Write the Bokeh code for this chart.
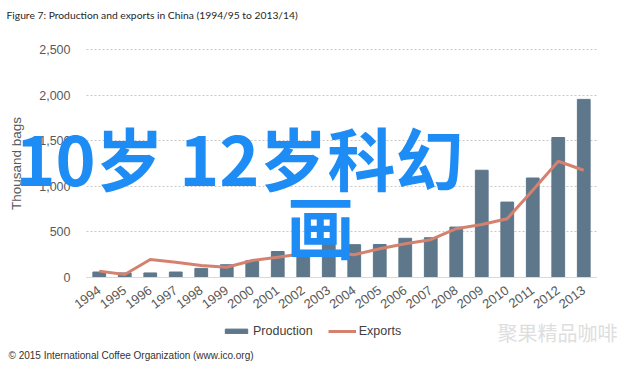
from bokeh.plotting import figure
from bokeh.models import (ColumnDataSource, Range1d, NumeralTickFormatter, Grid,
                          Legend, LegendItem, Label, FixedTicker)
from bokeh.embed import file_html
from bokeh.resources import INLINE

years = list(range(1994, 2014))
production = [60, 50, 50, 60, 100, 140, 185, 285, 290, 385, 360, 362, 430, 436, 553,
              1176, 827, 1091, 1535, 1953]
exports = [70, 33, 198, 168, 132, 113, 187, 223, 264, 278, 250, 315, 370, 414, 535,
           582, 645, 956, 1275, 1176]
y_ticks = [0, 500, 1000, 1500, 2000, 2500]

title_text = "Figure 7: Production and exports in China (1994/95 to 2013/14)"
footer_text = "\u00a9 2015 International Coffee Organization (www.ico.org)"
overlay1 = "10岁 12岁科幻"
overlay2 = "画"
watermark = "聚果精品咖啡"

# ---- layout geometry (pixels) ----
W, H = 640, 366
PLOT_L, PLOT_R, PLOT_T, PLOT_B = 86, 596, 49, 277
x_lo, x_hi = years[0] - 0.5, years[-1] + 0.5
y_lo, y_hi = y_ticks[0], y_ticks[-1]
px_x = (PLOT_R - PLOT_L) / (x_hi - x_lo)
px_y = (PLOT_B - PLOT_T) / (y_hi - y_lo)

def dx(px):
    return x_lo + (px - PLOT_L) / px_x

def dy(py):
    return y_lo + (PLOT_B - py) / px_y

src = ColumnDataSource(dict(year=years, production=production, exports=exports))

p = figure(width=W, height=H, output_backend="svg", toolbar_location=None,
           x_range=Range1d(dx(0), dx(W)), y_range=Range1d(dy(H), dy(0)),
           min_border_left=0, min_border_right=0, min_border_top=0, min_border_bottom=0)
p.outline_line_color = None
p.background_fill_color = "white"

bars = p.vbar(x="year", top="production", width=0.5, source=src, color="#5E778B")
line = p.line(x="year", y="exports", source=src, line_color="#D4826F", line_width=3)

tick_color = "#595959"
yax = p.yaxis[0]
yax.fixed_location = x_lo
yax.bounds = (y_lo, y_hi)
yax.ticker = FixedTicker(ticks=y_ticks)
yax.formatter = NumeralTickFormatter(format="0,0")
yax.axis_line_color = None
yax.major_tick_line_color = None
yax.minor_tick_line_color = None
yax.major_label_text_font = "Liberation Sans"
yax.major_label_text_font_size = "12.5px"
yax.major_label_text_color = tick_color
yax.major_label_standoff = 10
yax.axis_label = "Thousand bags"
yax.axis_label_text_font = "Liberation Sans"
yax.axis_label_text_font_style = "normal"
yax.axis_label_text_font_size = "13.5px"
yax.axis_label_text_color = tick_color
yax.axis_label_standoff = 12

xax = p.xaxis[0]
xax.fixed_location = y_lo
xax.bounds = (x_lo, x_hi)
xax.ticker = FixedTicker(ticks=years)
xax.major_label_overrides = {y: str(y) for y in years}
xax.axis_line_color = "#D9D9D9"
xax.major_tick_line_color = None
xax.minor_tick_line_color = None
xax.major_label_orientation = 0.63
xax.major_label_text_font = "Liberation Sans"
xax.major_label_text_font_size = "13px"
xax.major_label_text_color = tick_color
xax.major_label_standoff = 5

p.xgrid.grid_line_color = None
if "cross_bounds" in Grid.properties():
    p.ygrid.cross_bounds = (x_lo, x_hi)
    p.ygrid.grid_line_color = "#C8C8C8"
    p.ygrid.grid_line_dash = "2 2"
else:
    p.ygrid.grid_line_color = None
    p.segment(x0=[x_lo] * len(y_ticks), x1=[x_hi] * len(y_ticks), y0=y_ticks, y1=y_ticks,
              line_color="#C8C8C8", line_dash="2 2", level="underlay")

legend = Legend(items=[LegendItem(label="Production", renderers=[bars]),
                       LegendItem(label="Exports", renderers=[line])],
                location=(222, H - 341), orientation="horizontal",
                glyph_width=28, glyph_height=6, label_standoff=3, spacing=15,
                padding=0, margin=0, border_line_color=None, background_fill_alpha=0,
                label_text_font="Liberation Sans", label_text_font_size="12.5px",
                label_text_color="#404040", label_height=20)
p.add_layout(legend, "center")

def lab(text, px, py, size, color, font, align="left", style="normal"):
    p.add_layout(Label(x=dx(px), y=dy(py), text=text, text_font=font, text_font_size=size,
                       text_color=color, text_align=align, text_baseline="middle",
                       text_font_style=style))

lab(title_text, 6, 14, "10.3px", "#262626", "Lato")
lab(footer_text, 8, 355, "10px", "#333333", "Liberation Sans")
lab(watermark, 497, 332, "20px", "#DEDEDE", "Noto Sans CJK SC")
lab(overlay1, 15, 156, "68px", "#1E8CF5", "Noto Sans CJK SC", style="bold")
lab(overlay2, 320, 224, "68px", "#1E8CF5", "Noto Sans CJK SC", align="center", style="bold")

open("out.html", "w").write(file_html(p, INLINE))
